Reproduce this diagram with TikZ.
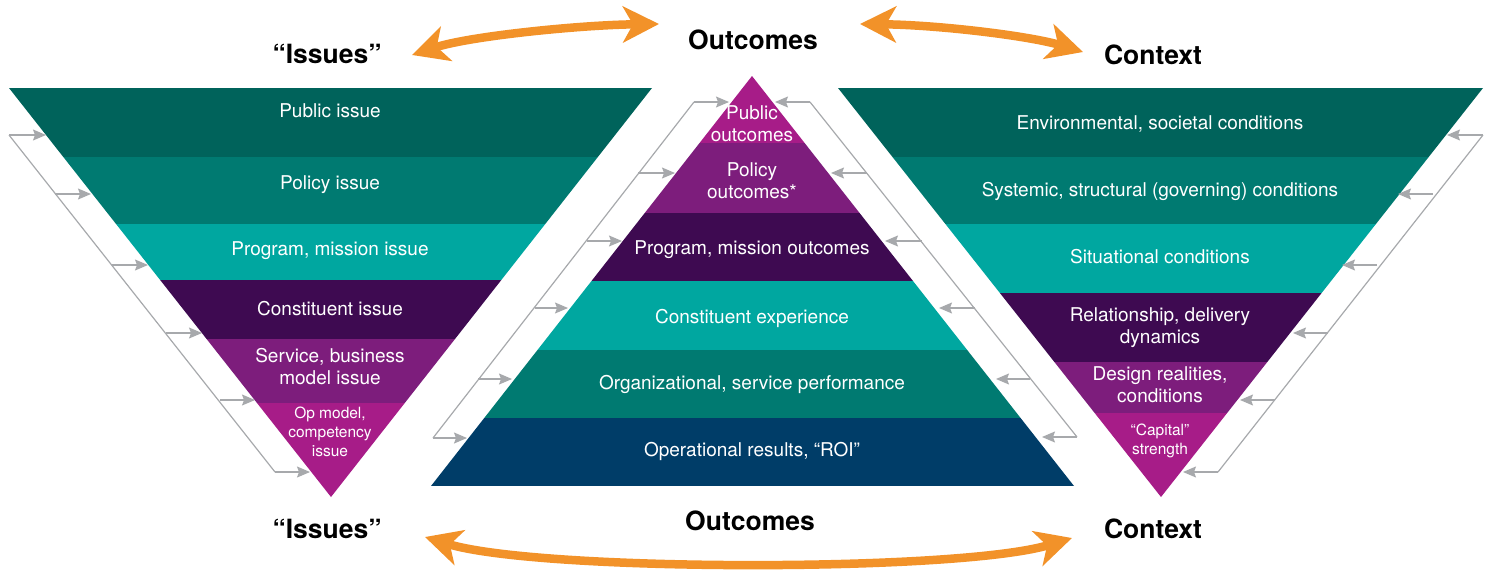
\documentclass[tikz,border=0pt]{standalone}
\usepackage{fontspec}
\setmainfont{TeX Gyre Heros}
\usetikzlibrary{arrows.meta}
\definecolor{deepgreen}{HTML}{00635B}
\definecolor{midgreen}{HTML}{007A71}
\definecolor{lightteal}{HTML}{00A7A0}
\definecolor{deeppurple}{HTML}{3E0A51}
\definecolor{midpurple}{HTML}{7D1D7C}
\definecolor{brightmagenta}{HTML}{A71C88}
\definecolor{deepnavy}{HTML}{003D68}
\definecolor{swaporange}{HTML}{F29229}
\definecolor{linkgrey}{HTML}{A7A9AC}
\begin{document}
\begin{tikzpicture}[x=1pt,y=-1pt,
  band/.style={text=white,align=center,inner sep=0pt,font=\fontsize{19}{22}\selectfont},
  bandsmall/.style={band,font=\fontsize{15.5}{19}\selectfont},
  heading/.style={inner sep=0pt,font=\bfseries\fontsize{26.5}{30}\selectfont},
  link/.style={draw=linkgrey,line width=1.2pt,-{Stealth[length=13pt,width=11pt,inset=2pt]}},
  linkline/.style={draw=linkgrey,line width=1.2pt},
  swap/.style={draw=swaporange,line width=8.5pt,{Stealth[length=36pt,width=36pt,inset=10pt]}-{Stealth[length=36pt,width=36pt,inset=10pt]}}]

    \useasboundingbox (0,0) rectangle (1491,571);

    % issues
    \begin{scope}
        \clip (9,88) -- (652,88) -- (331,497) -- cycle;
        \fill[deepgreen] (0,88) rectangle (700,157);
        \fill[midgreen] (0,157) rectangle (700,224);
        \fill[lightteal] (0,224) rectangle (700,280);
        \fill[deeppurple] (0,280) rectangle (700,339);
        \fill[midpurple] (0,339) rectangle (700,403);
        \fill[brightmagenta] (0,403) rectangle (700,500);
    \end{scope}

    % outcomes
    \begin{scope}
        \clip (431,486) -- (752,76) -- (1074,486) -- cycle;
        \fill[brightmagenta] (400,70) rectangle (1100,143);
        \fill[midpurple] (400,143) rectangle (1100,213);
        \fill[deeppurple] (400,213) rectangle (1100,281);
        \fill[lightteal] (400,281) rectangle (1100,350);
        \fill[midgreen] (400,350) rectangle (1100,418);
        \fill[deepnavy] (400,418) rectangle (1100,486);
    \end{scope}

    % context
    \begin{scope}
        \clip (838,88) -- (1483,88) -- (1161,497) -- cycle;
        \fill[deepgreen] (800,88) rectangle (1491,157);
        \fill[midgreen] (800,157) rectangle (1491,224);
        \fill[lightteal] (800,224) rectangle (1491,293);
        \fill[deeppurple] (800,293) rectangle (1491,362);
        \fill[midpurple] (800,362) rectangle (1491,413);
        \fill[brightmagenta] (800,413) rectangle (1491,500);
    \end{scope}

    \node[band] (iss1) at (330,111) {Public issue};
    \node[band] (iss2) at (330,185) {Policy issue};
    \node[band] (iss3) at (330,251) {Program, mission issue};
    \node[band] (iss4) at (330,309) {Constituent issue};
    \node[band] (iss5) at (330,367) {Service, business\\model issue};
    \node[bandsmall] (iss6) at (330,432) {Op model,\\competency\\issue};

    \node[band] (out1) at (752,124) {Public\\outcomes};
    \node[band] (out2) at (752,181) {Policy\\outcomes*};
    \node[band] (out3) at (752,250) {Program, mission outcomes};
    \node[band] (out4) at (752,318) {Constituent experience};
    \node[band] (out5) at (752,384) {Organizational, service performance};
    \node[band] (out6) at (752,451) {Operational results, “ROI”};

    \node[band] (ctx1) at (1160,124) {Environmental, societal conditions};
    \node[band] (ctx2) at (1160,191) {Systemic, structural (governing) conditions};
    \node[band] (ctx3) at (1160,257) {Situational conditions};
    \node[band] (ctx4) at (1160,328) {Relationship, delivery\\dynamics};
    \node[band] (ctx5) at (1160,385) {Design realities,\\conditions};
    \node[bandsmall] (ctx6) at (1160,441) {“Capital”\\strength};

    \node[heading] (issuesTop) at (327,54) {“Issues”};
    \node[heading] (outcomesTop) at (753,40) {Outcomes};
    \node[heading] (contextTop) at (1153,55) {Context};
    \node[heading] (issuesBot) at (327,529) {“Issues”};
    \node[heading] (outcomesBot) at (750,521) {Outcomes};
    \node[heading] (contextBot) at (1153,529) {Context};

    % feed lines
    \coordinate (ia1) at (9,135); \coordinate (ia2) at (55,194); \coordinate (ia3) at (112,265);
    \coordinate (ia4) at (166,333); \coordinate (ia5) at (220,400); \coordinate (ia6) at (275,472);
    \coordinate (ib1) at (46,135); \coordinate (ib2) at (91,194); \coordinate (ib3) at (148,265);
    \coordinate (ib4) at (202,333); \coordinate (ib5) at (255,400); \coordinate (ib6) at (310,472);
    \draw[linkline] (ia1) -- (ia6);
    \draw[link] (ia1) -- (ib1);
    \draw[link] (ia2) -- (ib2);
    \draw[link] (ia3) -- (ib3);
    \draw[link] (ia4) -- (ib4);
    \draw[link] (ia5) -- (ib5);
    \draw[link] (ia6) -- (ib6);

    \coordinate (oa1) at (694,102); \coordinate (oa2) at (638,173); \coordinate (oa3) at (587,241);
    \coordinate (oa4) at (535,308); \coordinate (oa5) at (478,379); \coordinate (oa6) at (433,438);
    \coordinate (ob1) at (729,102); \coordinate (ob2) at (675,173); \coordinate (ob3) at (622,241);
    \coordinate (ob4) at (568,308); \coordinate (ob5) at (512,379); \coordinate (ob6) at (467,438);
    \draw[linkline] (oa1) -- (oa6);
    \draw[link] (oa1) -- (ob1);
    \draw[link] (oa2) -- (ob2);
    \draw[link] (oa3) -- (ob3);
    \draw[link] (oa4) -- (ob4);
    \draw[link] (oa5) -- (ob5);
    \draw[link] (oa6) -- (ob6);

    \coordinate (pa1) at (810,102); \coordinate (pa2) at (867,173); \coordinate (pa3) at (922,241);
    \coordinate (pa4) at (975,308); \coordinate (pa5) at (1030,379); \coordinate (pa6) at (1077,437);
    \coordinate (pb1) at (775,102); \coordinate (pb2) at (831,173); \coordinate (pb3) at (885,241);
    \coordinate (pb4) at (939,308); \coordinate (pb5) at (996,379); \coordinate (pb6) at (1042,437);
    \draw[linkline] (pa1) -- (pa6);
    \draw[link] (pa1) -- (pb1);
    \draw[link] (pa2) -- (pb2);
    \draw[link] (pa3) -- (pb3);
    \draw[link] (pa4) -- (pb4);
    \draw[link] (pa5) -- (pb5);
    \draw[link] (pa6) -- (pb6);

    \coordinate (ca1) at (1483,135); \coordinate (ca2) at (1433,194); \coordinate (ca3) at (1377,265);
    \coordinate (ca4) at (1328,333); \coordinate (ca5) at (1275,400); \coordinate (ca6) at (1218,472);
    \coordinate (cb1) at (1447,135); \coordinate (cb2) at (1398,194); \coordinate (cb3) at (1342,265);
    \coordinate (cb4) at (1293,333); \coordinate (cb5) at (1240,400); \coordinate (cb6) at (1183,472);
    \draw[linkline] (ca1) -- (ca6);
    \draw[link] (ca1) -- (cb1);
    \draw[link] (ca2) -- (cb2);
    \draw[link] (ca3) -- (cb3);
    \draw[link] (ca4) -- (cb4);
    \draw[link] (ca5) -- (cb5);
    \draw[link] (ca6) -- (cb6);

    % orange swaps
    \coordinate (sw1) at (412,55); \coordinate (sw2) at (659,24);
    \coordinate (sw3) at (860,24); \coordinate (sw4) at (1083,52);
    \coordinate (sw5) at (425,537); \coordinate (sw6) at (1072,538);
    \draw[swap] (sw1) .. controls (470,36) and (580,25) .. (sw2);
    \draw[swap] (sw3) .. controls (940,25) and (1030,36) .. (sw4);
    \draw[swap] (sw5) .. controls (540,572) and (960,572) .. (sw6);
\end{tikzpicture}
\end{document}
